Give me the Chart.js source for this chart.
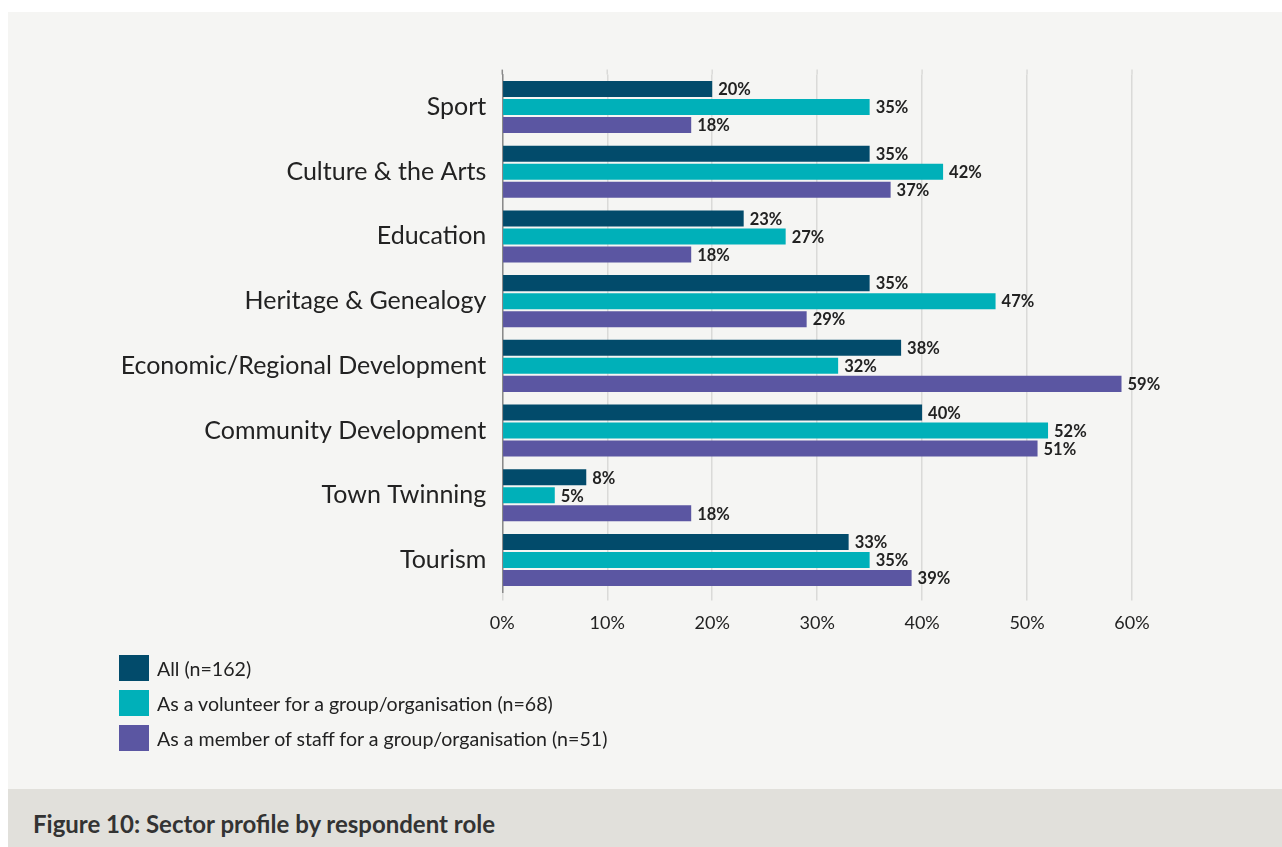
<!DOCTYPE html>
<html>
<head>
<meta charset="utf-8">
<script src="https://cdn.jsdelivr.net/npm/chart.js@4/dist/chart.umd.min.js"></script>
<style>
  html, body { margin: 0; padding: 0; background: #ffffff; width: 1282px; height: 847px; overflow: hidden; font-family: Lato, "Open Sans", sans-serif; }
  #panel { position: absolute; left: 8px; top: 12px; width: 1274px; height: 777px; background: #f5f5f3; }
  #caption { position: absolute; left: 8px; top: 789px; width: 1274px; height: 58px; background: #e1e0db; }
  #caption span { position: absolute; left: 25px; top: 20px; font: bold 24px Lato, sans-serif; color: #333333; line-height: 30px; white-space: nowrap; }
  #chart { position: absolute; left: 0; top: 0; }
  #legend { position: absolute; left: 119px; top: 655px; }
  .item { position: relative; height: 35px; }
  .box { position: absolute; left: 0; top: 0; width: 30px; height: 26px; }
  .lab { position: absolute; left: 38px; top: 0px; font: 19.6px Lato, sans-serif; color: #222222; line-height: 28px; white-space: nowrap; }
</style>
</head>
<body>
<div id="panel"></div>
<div id="caption"><span>Figure 10: Sector profile by respondent role</span></div>
<canvas id="chart" width="1282" height="660"></canvas>
<div id="legend"></div>
<script>
// Sectors and share of respondents (%) by role
const categories = ['Sport', 'Culture & the Arts', 'Education', 'Heritage & Genealogy',
  'Economic/Regional Development', 'Community Development', 'Town Twinning', 'Tourism'];
const allValues       = [20, 35, 23, 35, 38, 40, 8, 33];
const volunteerValues = [35, 42, 27, 47, 32, 52, 5, 35];
const staffValues     = [18, 37, 18, 29, 59, 51, 18, 39];
const seriesNames = ['All (n=162)', 'As a volunteer for a group/organisation (n=68)',
  'As a member of staff for a group/organisation (n=51)'];
const xTicks = [0, 10, 20, 30, 40, 50, 60];

const colors = ['#024b6b', '#00b0b9', '#5b56a2'];
const FONT = 'Lato, "Open Sans", sans-serif';

// Value labels at the end of each bar
const valueLabels = {
  id: 'valueLabels',
  afterDatasetsDraw(chart) {
    const ctx = chart.ctx;
    ctx.save();
    ctx.font = 'bold 16.5px ' + FONT;
    ctx.fillStyle = '#222222';
    ctx.textAlign = 'left';
    ctx.textBaseline = 'middle';
    chart.data.datasets.forEach((ds, i) => {
      chart.getDatasetMeta(i).data.forEach((bar, j) => {
        ctx.fillText(ds.data[j] + '%', bar.x + 6, bar.y + 1);
      });
    });
    ctx.restore();
  }
};

// Short extension of the vertical grid lines above the plot area
const gridCap = {
  id: 'gridCap',
  beforeDatasetsDraw(chart) {
    const ctx = chart.ctx, xs = chart.scales.x, top = chart.chartArea.top;
    ctx.save();
    xTicks.forEach(v => {
      const x = xs.getPixelForValue(v);
      ctx.beginPath();
      ctx.strokeStyle = v === 0 ? '#8a8a8a' : '#dadad8';
      ctx.lineWidth = 1.5;
      ctx.moveTo(x, top - 5);
      ctx.lineTo(x, top);
      ctx.stroke();
    });
    ctx.restore();
  }
};

function build() {
  const datasets = [allValues, volunteerValues, staffValues].map((d, i) => ({
    label: seriesNames[i],
    data: d,
    backgroundColor: colors[i],
    borderWidth: 0,
    categoryPercentage: 0.835,
    barPercentage: 0.889
  }));

  new Chart(document.getElementById('chart'), {
    type: 'bar',
    data: { labels: categories, datasets },
    plugins: [valueLabels, gridCap],
    options: {
      indexAxis: 'y',
      responsive: false,
      animation: false,
      devicePixelRatio: 1,
      layout: { padding: { left: 0, right: 150, top: 74.6, bottom: 0 } },
      plugins: { legend: { display: false }, tooltip: { enabled: false } },
      scales: {
        x: {
          type: 'linear',
          min: 0, max: 60,
          afterBuildTicks(scale) { scale.ticks = xTicks.map(v => ({ value: v })); },
          afterFit(scale) { scale.height = 660 - 592.4; },
          grid: { color: '#dadad8', lineWidth: 1.5, tickLength: 8, drawTicks: true, tickColor: '#dadad8' },
          border: { display: false },
          ticks: {
            padding: 12,
            color: '#222222',
            font: { family: FONT, size: 18 },
            callback: v => v + '%'
          }
        },
        y: {
          afterFit(scale) { scale.width = 502.3; },
          grid: { display: false, drawTicks: false },
          border: { display: true, color: '#8a8a8a', width: 1.5 },
          ticks: {
            padding: 16,
            color: '#222222',
            font: { family: FONT, size: 25 }
          }
        }
      }
    }
  });

  // Legend list below the chart
  const lg = document.getElementById('legend');
  seriesNames.forEach((name, i) => {
    const it = document.createElement('div');
    it.className = 'item';
    it.innerHTML = '<div class="box" style="background:' + colors[i] + '"></div><div class="lab"></div>';
    it.querySelector('.lab').textContent = name;
    lg.appendChild(it);
  });
}

Promise.all([
  document.fonts.load('25px Lato'),
  document.fonts.load('bold 16.5px Lato'),
  document.fonts.load('18px Lato')
]).then(build, build);
</script>
</body>
</html>
